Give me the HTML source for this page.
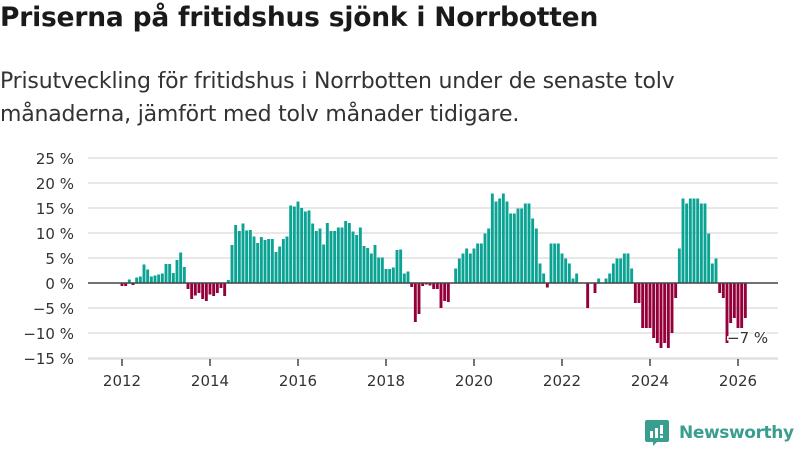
<!DOCTYPE html>
<html><head><meta charset="utf-8"><style>
body{margin:0;width:800px;height:450px;background:#fff;font-family:"Liberation Sans","DejaVu Sans",sans-serif;overflow:hidden;position:relative}
h1{position:absolute;left:0;top:2px;margin:0;font-size:26.5px;font-weight:bold;color:#1a1a1a;font-family:"DejaVu Sans",sans-serif;letter-spacing:-0.2px;white-space:nowrap}
.sub{position:absolute;left:0;top:65px;font-size:22px;line-height:33px;color:#333;font-family:"DejaVu Sans",sans-serif;letter-spacing:-0.2px;white-space:nowrap}
svg{position:absolute;left:0;top:0}
.logo{position:absolute;left:645px;top:420px;display:flex;align-items:center}
.logo span{font-family:"DejaVu Sans",sans-serif;font-weight:bold;font-size:17px;color:#3a9e8f;margin-left:10px;letter-spacing:-0.4px}
</style></head><body>
<h1>Priserna på fritidshus sjönk i Norrbotten</h1>
<div class="sub">Prisutveckling för fritidshus i Norrbotten under de senaste tolv<br>månaderna, jämfört med tolv månader tidigare.</div>
<svg id="chart" width="800" height="450"></svg>
<div class="logo">
<svg width="24" height="26" style="position:static" viewBox="0 0 24 26"><path d="M2 0h20a2 2 0 0 1 2 2v18a2 2 0 0 1-2 2H12l-4 4v-4H2a2 2 0 0 1-2-2V2a2 2 0 0 1 2-2z" fill="#3a9e8f"/><rect x="5" y="11" width="3" height="7" fill="#fff"/><rect x="10" y="8" width="3" height="10" fill="#fff"/><rect x="15" y="5" width="3" height="9" fill="#fff"/><rect x="15" y="15.5" width="3" height="2.5" fill="#fff"/></svg>
<span>Newsworthy</span></div>
<script>
const startYear = 2012;
const values = [-0.6,-0.6,0.7,-0.4,1.1,1.3,3.7,2.7,1.3,1.5,1.7,1.9,3.8,3.8,2.0,4.6,6.1,3.2,
-1.2,-3.2,-2.5,-2.0,-3.2,-3.6,-2.3,-2.6,-2.0,-1.0,-2.6,0.6,7.6,11.6,10.4,11.9,10.5,10.6,9.3,8.0,9.2,8.6,8.8,8.8,6.2,7.3,8.8,9.3,15.5,15.3,16.3,15.0,14.3,14.5,11.9,10.4,10.9,7.7,12.0,
10.4,10.4,11.1,11.1,12.4,12.0,10.3,9.6,11.1,7.4,7.0,5.9,7.6,5.1,5.1,2.8,2.8,3.1,6.6,6.7,1.9,2.3,-0.8,-7.8,-6.2,-0.6,-0.3,-0.5,-1.2,-1.2,-5.0,-3.6,-3.8,0,
2.9,4.9,5.9,6.9,5.9,6.9,7.9,7.9,9.9,10.9,17.9,16.3,16.9,17.9,16.3,13.9,13.9,14.9,14.9,15.9,15.9,12.9,10.9,3.9,1.9,-0.9,7.9,7.9,7.9,
5.9,4.9,3.9,0.9,1.9,0,0,-5.0,0,-2.0,0.9,0,0.9,1.9,3.9,4.9,4.9,5.9,5.9,2.9,-4.0,-4.0,-9.0,-9.0,-9.0,-11.0,-12.0,-13.0,-12.0,-13.0,-10.0,-3.0,
6.9,16.9,15.9,16.9,16.9,16.9,15.9,15.9,9.9,3.9,4.9,-2.0,-3.0,-12.0,-8.0,-7.0,-9.0,-9.0,-7.0];
const yTicks = [25,20,15,10,5,0,-5,-10,-15];
const xTicks = [2012,2014,2016,2018,2020,2022,2024,2026];
const lastLabel = "−7 %";
const NS="http://www.w3.org/2000/svg";
const svg=document.getElementById('chart');
const x=t=>122+(t-2012)*44;
const y=v=>283-v*5;
function mk(tag,attrs){const e=document.createElementNS(NS,tag);for(const k in attrs)e.setAttribute(k,attrs[k]);svg.appendChild(e);return e;}
yTicks.forEach(v=>{
  if(v!==0){const l=mk('line',{x1:88,x2:778,y1:y(v),y2:y(v),stroke:'#e0e0e0','stroke-width':1.5});
  
  }
  const t=mk('text',{x:74,y:y(v)+6,'text-anchor':'end','font-size':15,fill:'#333','font-family':'DejaVu Sans, sans-serif'});
  t.textContent=(v<0?'−'+(-v):v)+' %';
  
  
});
const bw=2.9;
values.forEach((v,i)=>{
  if(v===0)return;
  const cx=x(startYear+i/12);
  const r=mk('rect',{x:cx-bw/2,y:Math.min(y(v),283),width:bw,height:Math.abs(v*5),fill:v>0?'#0ba394':'#96003a'});
  
  
});
const z=mk('line',{x1:88,x2:778,y1:283,y2:283,stroke:'#444','stroke-width':1.5});


const ax=mk('line',{x1:88,x2:778,y1:359,y2:359,stroke:'#e0e0e0','stroke-width':1.5});


xTicks.forEach(yr=>{
  const tk=mk('line',{x1:x(yr),x2:x(yr),y1:359,y2:366,stroke:'#444','stroke-width':1.5});
  
  
  const t=mk('text',{x:x(yr),y:386,'text-anchor':'middle','font-size':15,fill:'#333','font-family':'DejaVu Sans, sans-serif'});
  t.textContent=yr;
  
  
});
const lab=mk('text',{x:727,y:343,'font-size':15,fill:'#333','font-family':'DejaVu Sans, sans-serif',stroke:'#fff','stroke-width':3,'paint-order':'stroke'});
lab.textContent=lastLabel;


</script>
</body></html>
